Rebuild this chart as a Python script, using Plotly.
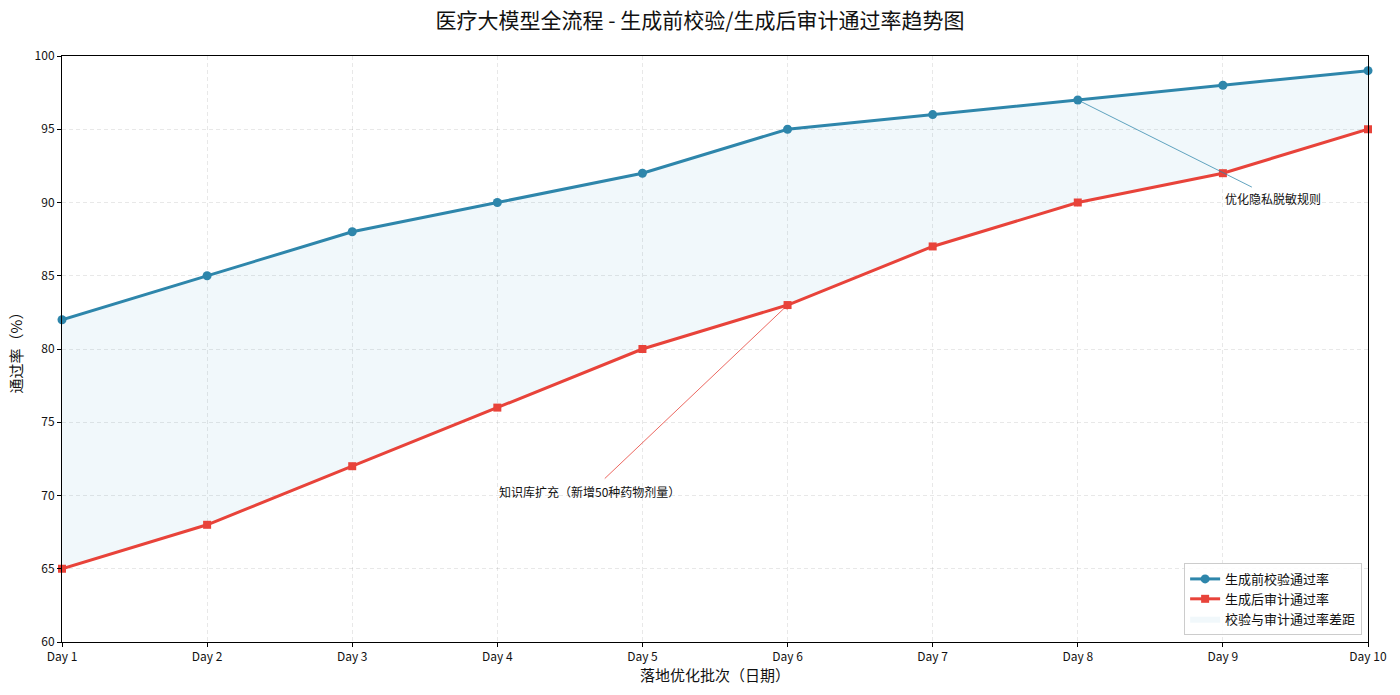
import plotly.graph_objects as go

days = list(range(1, 11))
day_labels = [f"Day {d}" for d in days]
pre_check = [82, 85, 88, 90, 92, 95, 96, 97, 98, 99]
post_audit = [65, 68, 72, 76, 80, 83, 87, 90, 92, 95]

BLUE = "#2E86AB"
RED = "#E8433A"
FONT = "Noto Sans CJK SC"

fig = go.Figure()
# fill region
fig.add_trace(go.Scatter(x=days, y=post_audit, mode="lines", line=dict(width=0, color="rgba(0,0,0,0)"),
                         showlegend=False, hoverinfo="skip"))
fig.add_trace(go.Scatter(x=days, y=pre_check, mode="lines", line=dict(width=0, color="rgba(0,0,0,0)"),
                         fill="tonexty", fillcolor="rgba(40,150,200,0.065)",
                         name="校验与审计通过率差距", legendrank=3))
fig.add_trace(go.Scatter(x=days, y=pre_check, mode="lines+markers", name="生成前校验通过率",
                         line=dict(color=BLUE, width=3), marker=dict(symbol="circle", size=9, color=BLUE),
                         cliponaxis=False, legendrank=1))
fig.add_trace(go.Scatter(x=days, y=post_audit, mode="lines+markers", name="生成后审计通过率",
                         line=dict(color=RED, width=3), marker=dict(symbol="square", size=8, color=RED),
                         cliponaxis=False, legendrank=2))

# annotations: arrows
fig.add_annotation(x=6, y=83, ax=4.73, ay=71.06, xref="x", yref="y", axref="x", ayref="y",
                   text="", showarrow=True, arrowhead=1, arrowsize=1.2, arrowwidth=1,
                   arrowcolor="rgba(232,67,58,0.8)")
fig.add_annotation(x=4, y=70.3, xref="x", yref="y", text="知识库扩充（新增50种药物剂量）",
                   showarrow=False, xanchor="left", yanchor="middle", font=dict(size=12, color="#111", family=FONT))
fig.add_annotation(x=8, y=97, ax=9.21, ay=91.0, xref="x", yref="y", axref="x", ayref="y",
                   text="", showarrow=True, arrowhead=1, arrowsize=1.2, arrowwidth=1,
                   arrowcolor="rgba(46,134,171,0.75)")
fig.add_annotation(x=9, y=90.3, xref="x", yref="y", text="优化隐私脱敏规则",
                   showarrow=False, xanchor="left", yanchor="middle", font=dict(size=12, color="#111", family=FONT))

fig.update_layout(
    width=1400, height=695,
    margin=dict(l=62, r=32, t=56, b=53),
    paper_bgcolor="white", plot_bgcolor="white",
    font=dict(family=FONT, color="#111"),
    title=dict(text="医疗大模型全流程 - 生成前校验/生成后审计通过率趋势图", x=0.5, xanchor="center",
               y=0.97, yanchor="middle", font=dict(size=21, family=FONT, color="#111")),
    legend=dict(x=0.9955, y=0.012, xanchor="right", yanchor="bottom", bgcolor="rgba(255,255,255,0.85)",
                bordercolor="#ccc", borderwidth=1, font=dict(size=13, family=FONT), tracegroupgap=0,
                traceorder="normal"),
    xaxis=dict(range=[1, 10], tickvals=days, ticktext=day_labels, showgrid=True,
               gridcolor="rgba(0,0,0,0.09)", griddash="4px,3px", gridwidth=1,
               showline=True, linecolor="black", linewidth=1, mirror=True,
               ticks="outside", ticklen=4, tickcolor="black", zeroline=False,
               tickfont=dict(size=12, family=FONT),
               title=dict(text="落地优化批次（日期）", font=dict(size=15, family=FONT), standoff=6)),
    yaxis=dict(range=[60, 100], tickvals=list(range(60, 101, 5)), showgrid=True,
               gridcolor="rgba(0,0,0,0.09)", griddash="4px,3px", gridwidth=1,
               showline=True, linecolor="black", linewidth=1, mirror=True,
               ticks="outside", ticklen=4, tickcolor="black", zeroline=False,
               tickfont=dict(size=12, family=FONT),
               title=dict(text="通过率（%）", font=dict(size=15, family=FONT), standoff=8)),
)

fig.write_html("out.html")
